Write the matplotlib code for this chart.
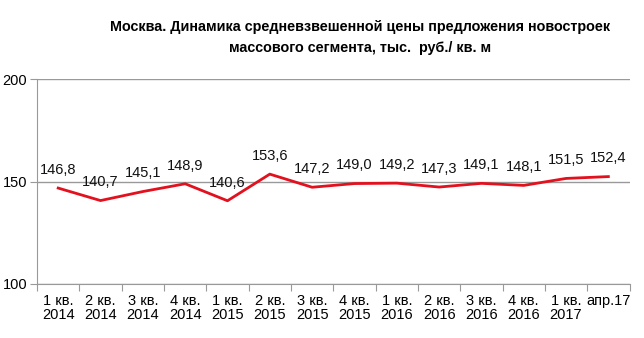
import numpy as np
import matplotlib.pyplot as plt

# data
periods = ["1 кв.\n2014", "2 кв.\n2014", "3 кв.\n2014", "4 кв.\n2014",
           "1 кв.\n2015", "2 кв.\n2015", "3 кв.\n2015", "4 кв.\n2015",
           "1 кв.\n2016", "2 кв.\n2016", "3 кв.\n2016", "4 кв.\n2016",
           "1 кв.\n2017", "апр.17"]
prices = [146.8, 140.7, 145.1, 148.9, 140.6, 153.6, 147.2,
          149.0, 149.2, 147.3, 149.1, 148.1, 151.5, 152.4]

plt.rcParams['font.family'] = ['Liberation Sans', 'DejaVu Sans']

fig = plt.figure(figsize=(6.44, 3.38), dpi=100)
ax = fig.add_axes([0.0575, 0.16, 0.92, 0.606])

x = np.arange(len(prices))
ax.plot(x, prices, color="#E3101E", lw=2, zorder=3)

for xi, v in zip(x, prices):
    ax.annotate(f"{v:.1f}".replace(".", ","), (xi, v), xytext=(0, 8),
                textcoords="offset points", ha="center", va="bottom",
                fontsize=10.5, color="#111111")

ax.set_xlim(-0.5, len(prices) - 0.5)
ax.set_ylim(100, 200)
ax.set_yticks([100, 150, 200])
ax.yaxis.grid(True, color="#999999", lw=1)
ax.set_axisbelow(True)

# ticks at category boundaries, labels centred on categories
ax.set_xticks(np.arange(-0.5, len(prices)), minor=False)
ax.set_xticklabels([])
ax.set_xticks(x, minor=True)
ax.set_xticklabels(periods, minor=True, fontsize=10.5, linespacing=1.05)
ax.tick_params(axis="x", which="minor", length=0, pad=7)
ax.tick_params(axis="x", which="major", length=5, color="#999999")
ax.tick_params(axis="y", length=5, color="#999999", labelsize=10.5, pad=2)

for s in ["top", "right"]:
    ax.spines[s].set_visible(False)
for s in ["left", "bottom"]:
    ax.spines[s].set_color("#999999")

fig.text(0.559, 0.94,
         "Москва. Динамика средневзвешенной цены предложения новостроек\nмассового сегмента, тыс.  руб./ кв. м",
         ha="center", va="top", fontsize=10.4, fontweight="bold",
         linespacing=1.6)

fig.savefig("out.png", dpi=100)
